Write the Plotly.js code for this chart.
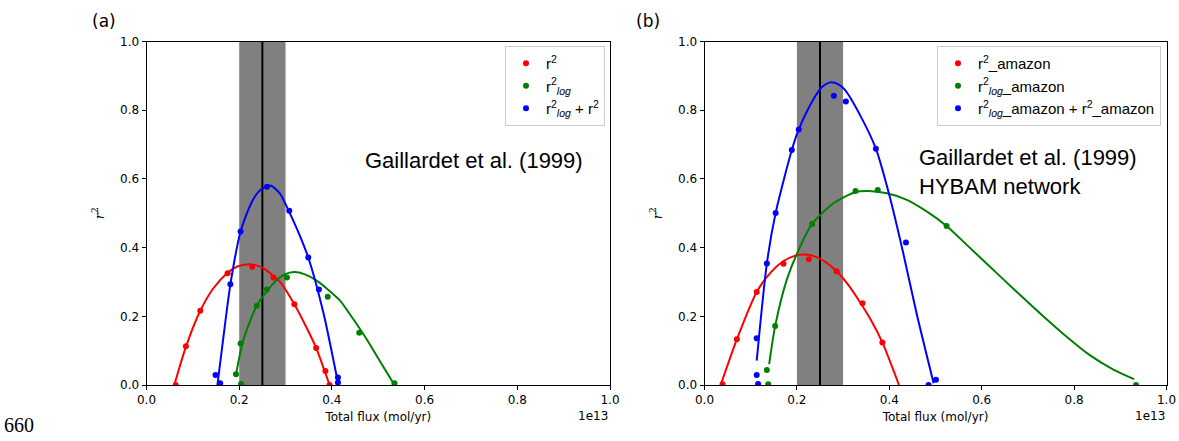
<!DOCTYPE html>
<html>
<head>
<meta charset="utf-8">
<script src="https://cdn.plot.ly/plotly-3.0.1.min.js"></script>
<style>html,body{margin:0;padding:0;background:#fff;}#chart{width:1179px;height:441px;}</style>
</head>
<body>
<div id="chart"></div>
<script>
// Total flux values in units of 1e13 mol/yr
// ---- Panel (a) ----
const aRedX   = [0.063, 0.085, 0.116, 0.175, 0.228, 0.274, 0.319, 0.366, 0.386, 0.395];
const aRedY   = [0.0, 0.113, 0.216, 0.325, 0.344, 0.313, 0.235, 0.108, 0.041, 0.0];
const aGreenX = [0.193, 0.204, 0.203, 0.238, 0.260, 0.303, 0.391, 0.459, 0.535];
const aGreenY = [0.031, 0.003, 0.121, 0.231, 0.278, 0.313, 0.257, 0.152, 0.005];
const aBlueX  = [0.149, 0.159, 0.181, 0.203, 0.260, 0.308, 0.349, 0.372, 0.413, 0.413];
const aBlueY  = [0.029, 0.005, 0.293, 0.447, 0.577, 0.507, 0.371, 0.278, 0.022, 0.007];
// fitted curves
const aRedFitX   = [0.060, 0.085, 0.116, 0.144, 0.175, 0.196, 0.216, 0.235, 0.252, 0.270, 0.288, 0.319, 0.346, 0.366, 0.395];
const aRedFitY   = [0.0, 0.111, 0.216, 0.281, 0.327, 0.345, 0.351, 0.349, 0.340, 0.322, 0.300, 0.235, 0.165, 0.108, 0.0];
const aGreenFitX = [0.193, 0.209, 0.238, 0.274, 0.298, 0.319, 0.342, 0.368, 0.393, 0.418, 0.446, 0.476, 0.505, 0.535];
const aGreenFitY = [0.030, 0.131, 0.231, 0.296, 0.322, 0.329, 0.322, 0.303, 0.276, 0.245, 0.192, 0.131, 0.066, 0.0];
const aBlueFitX  = [0.153, 0.166, 0.181, 0.203, 0.228, 0.245, 0.267, 0.288, 0.303, 0.326, 0.349, 0.382, 0.414];
const aBlueFitY  = [0.0, 0.140, 0.293, 0.447, 0.535, 0.567, 0.581, 0.557, 0.518, 0.450, 0.371, 0.208, 0.0];

// ---- Panel (b) ----
const bRedX   = [0.039, 0.070, 0.113, 0.171, 0.226, 0.286, 0.342, 0.385];
const bRedY   = [0.002, 0.133, 0.271, 0.353, 0.366, 0.331, 0.238, 0.124];
const bGreenX = [0.138, 0.135, 0.153, 0.233, 0.327, 0.375, 0.524, 0.934];
const bGreenY = [0.002, 0.044, 0.172, 0.469, 0.565, 0.568, 0.463, 0.0];
const bBlueX  = [0.116, 0.113, 0.113, 0.135, 0.154, 0.189, 0.204, 0.280, 0.306, 0.371, 0.436, 0.485, 0.501];
const bBlueY  = [0.003, 0.029, 0.136, 0.354, 0.501, 0.684, 0.744, 0.842, 0.825, 0.688, 0.415, 0.0, 0.015];
const bRedFitX   = [0.035, 0.070, 0.113, 0.145, 0.171, 0.195, 0.214, 0.235, 0.260, 0.286, 0.312, 0.337, 0.362, 0.385, 0.421];
const bRedFitY   = [0.0, 0.133, 0.271, 0.330, 0.361, 0.376, 0.380, 0.376, 0.360, 0.331, 0.290, 0.240, 0.185, 0.124, 0.0];
const bGreenFitX = [0.140, 0.153, 0.178, 0.207, 0.233, 0.279, 0.327, 0.355, 0.395, 0.438, 0.480, 0.524, 0.570, 0.618, 0.672, 0.726, 0.780, 0.834, 0.885, 0.930];
const bGreenFitY = [0.061, 0.172, 0.306, 0.403, 0.469, 0.529, 0.562, 0.565, 0.558, 0.539, 0.506, 0.463, 0.405, 0.344, 0.276, 0.209, 0.145, 0.087, 0.045, 0.017];
const bBlueFitX  = [0.113, 0.135, 0.154, 0.189, 0.204, 0.235, 0.255, 0.273, 0.290, 0.304, 0.335, 0.371, 0.401, 0.430, 0.459, 0.496];
const bBlueFitY  = [0.071, 0.354, 0.501, 0.684, 0.744, 0.830, 0.868, 0.881, 0.875, 0.859, 0.790, 0.688, 0.548, 0.385, 0.209, 0.005];

// Reference band and line (Gaillardet et al. 1999)
const bandRange = [0.2, 0.3];
const refFlux = 0.25;

const legendNamesA = ['r<sup>2</sup>', 'r<sup>2</sup><sub><i>log</i></sub>', 'r<sup>2</sup><sub><i>log</i></sub> + r<sup>2</sup>'];
const legendNamesB = ['r<sup>2</sup>_amazon', 'r<sup>2</sup><sub><i>log</i></sub>_amazon', 'r<sup>2</sup><sub><i>log</i></sub>_amazon + r<sup>2</sup>_amazon'];
const colors = ['#ff0000', '#008000', '#0000ff'];

function pts(x, y, name, color, xa, ya, leg) {
  return {x: x, y: y, type: 'scatter', mode: 'markers', name: name,
    marker: {color: color, size: 6}, xaxis: xa, yaxis: ya, legend: leg};
}
function fit(x, y, color, xa, ya) {
  return {x: x, y: y, type: 'scatter', mode: 'lines', showlegend: false,
    line: {color: color, width: 2, shape: 'spline', smoothing: 0.7}, xaxis: xa, yaxis: ya, hoverinfo: 'skip'};
}

const traces = [
  fit(aRedFitX, aRedFitY, colors[0], 'x', 'y'),
  fit(aGreenFitX, aGreenFitY, colors[1], 'x', 'y'),
  fit(aBlueFitX, aBlueFitY, colors[2], 'x', 'y'),
  pts(aRedX, aRedY, legendNamesA[0], colors[0], 'x', 'y', 'legend'),
  pts(aGreenX, aGreenY, legendNamesA[1], colors[1], 'x', 'y', 'legend'),
  pts(aBlueX, aBlueY, legendNamesA[2], colors[2], 'x', 'y', 'legend'),
  fit(bRedFitX, bRedFitY, colors[0], 'x2', 'y2'),
  fit(bGreenFitX, bGreenFitY, colors[1], 'x2', 'y2'),
  fit(bBlueFitX, bBlueFitY, colors[2], 'x2', 'y2'),
  pts(bRedX, bRedY, legendNamesB[0], colors[0], 'x2', 'y2', 'legend2'),
  pts(bGreenX, bGreenY, legendNamesB[1], colors[1], 'x2', 'y2', 'legend2'),
  pts(bBlueX, bBlueY, legendNamesB[2], colors[2], 'x2', 'y2', 'legend2')
];

const W = 1179, H = 441;
const yDom = [1 - 385 / H, 1 - 41.5 / H];
const tickFont = {family: 'DejaVu Sans', size: 12, color: '#000'};

function xAxis(domain, anchor) {
  return {domain: domain, anchor: anchor, range: [0, 1], dtick: 0.2, tick0: 0, tickformat: '.1f',
    showline: true, mirror: true, linecolor: '#000', linewidth: 1, ticks: 'outside', ticklen: 4,
    tickcolor: '#000', showgrid: false, zeroline: false, tickfont: tickFont,
    title: {text: 'Total flux (mol/yr)', font: {family: 'DejaVu Sans', size: 12, color: '#000'}, standoff: 6}};
}
function yAxis(anchor) {
  return {domain: yDom, anchor: anchor, range: [0, 1], dtick: 0.2, tick0: 0, tickformat: '.1f',
    showline: true, mirror: true, linecolor: '#000', linewidth: 1, ticks: 'outside', ticklen: 4,
    tickcolor: '#000', showgrid: false, zeroline: false, tickfont: tickFont,
    title: {text: '<i>r</i><sup>2</sup>', font: {family: 'DejaVu Serif', size: 13, color: '#000'}, standoff: 12}};
}

function bandShapes(xref) {
  const yr = (xref === 'x' ? 'y' : 'y2') + ' domain';
  return [
    {type: 'rect', xref: xref, yref: yr, x0: bandRange[0], x1: bandRange[1], y0: 0, y1: 1,
      fillcolor: 'rgb(128,128,128)', line: {width: 0}, layer: 'below'},
    {type: 'line', xref: xref, yref: yr, x0: refFlux, x1: refFlux, y0: 0, y1: 1,
      line: {color: '#000', width: 2}, layer: 'below'}
  ];
}

const annFont = {family: 'Liberation Sans', size: 22, color: '#000'};
const legFont = {family: 'Liberation Sans', size: 15, color: '#000'};
const layout = {
  width: W, height: H,
  margin: {l: 0, r: 0, t: 0, b: 0},
  paper_bgcolor: '#fff', plot_bgcolor: '#fff',
  font: {family: 'DejaVu Sans', color: '#000'},
  xaxis: xAxis([146.5 / W, 610 / W], 'y'),
  yaxis: yAxis('x'),
  xaxis2: xAxis([704.5 / W, 1166.5 / W], 'y2'),
  yaxis2: yAxis('x2'),
  shapes: bandShapes('x').concat(bandShapes('x2')),
  legend: {x: 605 / W, xanchor: 'right', y: 1 - 46 / H, yanchor: 'top', bgcolor: '#fff',
    bordercolor: '#cccccc', borderwidth: 1, font: legFont},
  legend2: {x: 1161 / W, xanchor: 'right', y: 1 - 46 / H, yanchor: 'top', bgcolor: '#fff',
    bordercolor: '#cccccc', borderwidth: 1, font: legFont},
  annotations: [
    {text: 'Gaillardet et al. (1999)', xref: 'paper', yref: 'paper', x: 363 / W, y: 1 - 160 / H,
      xanchor: 'left', yanchor: 'middle', showarrow: false, font: annFont},
    {text: 'Gaillardet et al. (1999)<br>HYBAM network', xref: 'paper', yref: 'paper', x: 917 / W, y: 1 - 172 / H,
      xanchor: 'left', yanchor: 'middle', align: 'left', showarrow: false, font: annFont},
    {text: '(a)', xref: 'paper', yref: 'paper', x: 104 / W, y: 1 - 21 / H, xanchor: 'center', yanchor: 'middle',
      showarrow: false, font: {family: 'DejaVu Sans', size: 17, color: '#000'}},
    {text: '(b)', xref: 'paper', yref: 'paper', x: 648 / W, y: 1 - 21 / H, xanchor: 'center', yanchor: 'middle',
      showarrow: false, font: {family: 'DejaVu Sans', size: 17, color: '#000'}},
    {text: '1e13', xref: 'paper', yref: 'paper', x: 610 / W, y: 1 - 416 / H, xanchor: 'right', yanchor: 'middle',
      showarrow: false, font: {family: 'DejaVu Sans', size: 12, color: '#000'}},
    {text: '1e13', xref: 'paper', yref: 'paper', x: 1166.5 / W, y: 1 - 416 / H, xanchor: 'right', yanchor: 'middle',
      showarrow: false, font: {family: 'DejaVu Sans', size: 12, color: '#000'}},
    {text: '660', xref: 'paper', yref: 'paper', x: 2 / W, y: 1 - 425 / H, xanchor: 'left', yanchor: 'middle',
      showarrow: false, font: {family: 'Liberation Serif', size: 20, color: '#000'}}
  ]
};

Plotly.newPlot('chart', traces, layout, {staticPlot: true, displayModeBar: false});
</script>
</body>
</html>
